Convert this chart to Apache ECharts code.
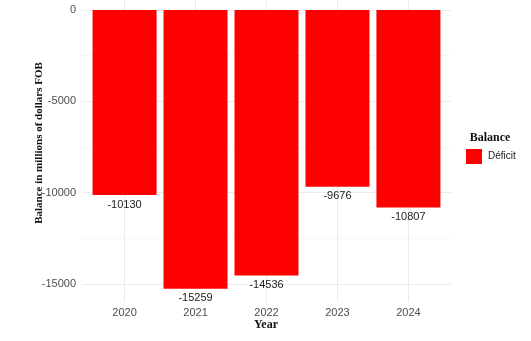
<!DOCTYPE html>
<html><head><meta charset="utf-8">
<script src="https://cdn.jsdelivr.net/npm/echarts@6/dist/echarts.min.js"></script>
<style>html,body{margin:0;padding:0;background:#fff}#c{width:531px;height:341px}</style>
</head><body><div id="c"></div>
<script>
const years = ['2020', '2021', '2022', '2023', '2024'];
const balance = [-10130, -15259, -14536, -9676, -10807];
const yMajorTicks = [0, -5000, -10000, -15000];
const yMinorTicks = [-2500, -7500, -12500];
const legendLabel = 'Déficit';

const positions = years.map((y, i) => i + 1);
const chart = echarts.init(document.getElementById('c'), null, {renderer: 'canvas'});
const labelFont = {color: '#4d4d4d', fontSize: 11, fontFamily: 'Liberation Sans, Arial'};
chart.setOption({
  animation: false,
  grid: [{left: 82, right: 80, top: 0, bottom: 39}],
  xAxis: [{
    type: 'value', min: 0.4, max: 5.6,
    axisLine: {show: false},
    axisTick: {show: false, customValues: positions},
    axisLabel: Object.assign({customValues: positions, margin: 5,
      formatter: v => years[Math.round(v) - 1] || ''}, labelFont),
    splitLine: {show: true, lineStyle: {color: '#ebebeb', width: 1}}
  }],
  yAxis: [{
    type: 'value', min: -15982, max: 547,
    axisLine: {show: false},
    axisTick: {show: false, customValues: yMajorTicks},
    axisLabel: Object.assign({customValues: yMajorTicks, margin: 6,
      formatter: v => String(v)}, labelFont),
    splitLine: {show: true, lineStyle: {color: '#ebebeb', width: 1}}
  }, {
    type: 'value', min: -15982, max: 547, position: 'left',
    axisLine: {show: false},
    axisTick: {show: false, customValues: yMinorTicks},
    axisLabel: {show: false, customValues: yMinorTicks},
    splitLine: {show: true, lineStyle: {color: '#f5f5f5', width: 1}}
  }],
  series: [{
    type: 'bar',
    name: legendLabel,
    barWidth: 64,
    data: positions.map((p, i) => [p, balance[i]]),
    itemStyle: {color: '#ff0000'},
    label: {show: true, position: 'bottom', distance: 4, color: '#222',
      fontSize: 11, fontFamily: 'Liberation Sans, Arial'}
  }],
  graphic: [
    {type: 'text', x: 39, y: 143, rotation: Math.PI / 2,
      style: {text: 'Balance in millions of dollars FOB', font: 'bold 11px "Liberation Serif", serif',
        fill: '#111', align: 'center', verticalAlign: 'middle'}},
    {type: 'text', x: 266, y: 325,
      style: {text: 'Year', font: 'bold 12px "Liberation Serif", serif', fill: '#111',
        align: 'center', verticalAlign: 'middle'}},
    {type: 'text', x: 490, y: 138,
      style: {text: 'Balance', font: 'bold 12px "Liberation Serif", serif', fill: '#111',
        align: 'center', verticalAlign: 'middle'}},
    {type: 'rect', shape: {x: 466, y: 149, width: 16, height: 15}, style: {fill: '#ff0000'}},
    {type: 'text', x: 488, y: 156.5,
      style: {text: legendLabel, font: '10px "Liberation Sans", Arial', fill: '#222',
        align: 'left', verticalAlign: 'middle'}}
  ]
});
</script></body></html>
